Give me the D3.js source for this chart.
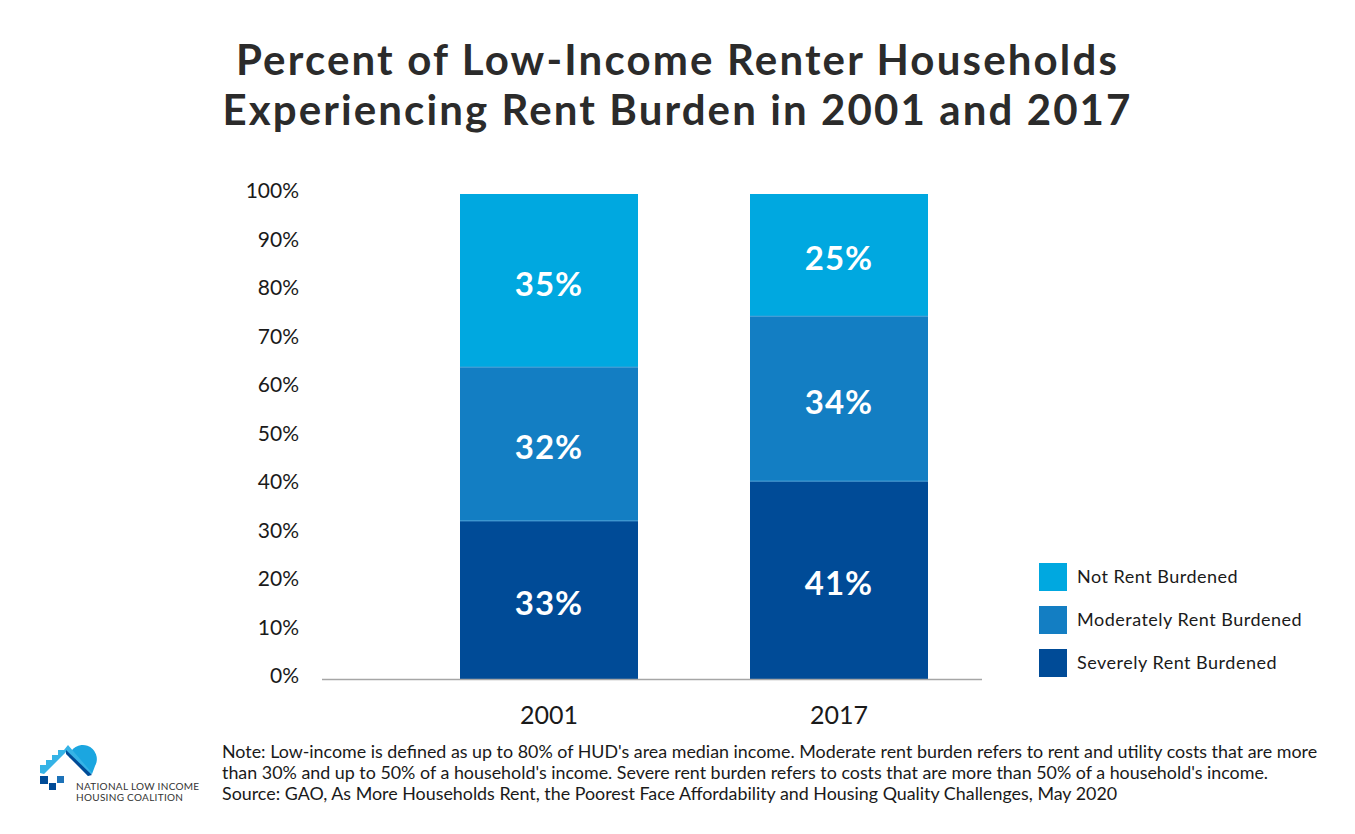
<!DOCTYPE html>
<html><head><meta charset="utf-8">
<script src="https://cdn.jsdelivr.net/npm/d3@7"></script>
<style>body{margin:0;background:#fff}svg{display:block}text{font-family:Lato,"Open Sans",sans-serif}</style>
</head><body>
<svg id="c" width="1355" height="834"></svg>
<script>
const years = ["2001", "2017"];
const seriesNames = ["Severely Rent Burdened", "Moderately Rent Burdened", "Not Rent Burdened"];
const severe = [32.6, 40.8];
const moderate = [31.7, 34.0];
const notBurdened = [35.7, 25.2];
const severeLabels = ["33%", "41%"];
const moderateLabels = ["32%", "34%"];
const notLabels = ["35%", "25%"];
const yTicks = [0, 10, 20, 30, 40, 50, 60, 70, 80, 90, 100];
const colors = ["#004b97", "#137ec3", "#00a8e0"];

const svg = d3.select("#c");
function fit(sel, w) {
  const n = sel.node(); const cur = n.getComputedTextLength();
  const fs = parseFloat(sel.attr("font-size"));
  sel.attr("font-size", fs * w / cur);
}
function fitSpacing(sel, w) {
  const n = sel.node(); const cur = n.getComputedTextLength();
  const len = sel.text().length;
  sel.attr("letter-spacing", (w - cur) / (len - 1));
}

// title
const t1 = svg.append("text").attr("x", 677.5).attr("y", 75).attr("text-anchor", "middle")
  .attr("font-size", 42).attr("font-weight", 700).attr("fill", "#2b2b2b").text("Percent of Low-Income Renter Households");
fitSpacing(t1, 881);
const t2 = svg.append("text").attr("x", 677.5).attr("y", 125).attr("text-anchor", "middle")
  .attr("font-size", 42).attr("font-weight", 700).attr("fill", "#2b2b2b").text("Experiencing Rent Burden in 2001 and 2017");
fitSpacing(t2, 908);

const y = d3.scaleLinear().domain([0, 100]).range([679, 194]);
const x = d3.scaleBand().domain(years).range([404, 984]).paddingInner(0.3862).paddingOuter(0.1931);

const rows = years.map((yr, i) => ({year: yr, vals: [severe[i], moderate[i], notBurdened[i]], labels: [severeLabels[i], moderateLabels[i], notLabels[i]]}));
const segs = [];
rows.forEach(r => { let acc = 0; r.vals.forEach((v, k) => { segs.push({year: r.year, k, y0: acc, y1: acc + v, label: r.labels[k]}); acc += v; }); });

svg.append("g").selectAll("rect").data(segs).join("rect")
  .attr("x", d => x(d.year)).attr("width", x.bandwidth())
  .attr("y", d => y(d.y1)).attr("height", d => y(d.y0) - y(d.y1))
  .attr("fill", d => colors[d.k]);
// thin separators
svg.append("g").selectAll("line").data(segs.filter(d => d.k > 0)).join("line")
  .attr("x1", d => x(d.year)).attr("x2", d => x(d.year) + x.bandwidth())
  .attr("y1", d => y(d.y0)).attr("y2", d => y(d.y0))
  .attr("stroke", "#4a9fd6").attr("stroke-width", 1);

svg.append("g").selectAll("text").data(segs).join("text")
  .attr("x", d => x(d.year) + x.bandwidth() / 2).attr("y", d => y((d.y0 + d.y1) / 2) + 15)
  .attr("text-anchor", "middle").attr("fill", "#fff").attr("font-size", 33).attr("font-weight", 700)
  .attr("letter-spacing", 1)
  .text(d => d.label);

// y axis
const ya = svg.append("g").attr("transform", "translate(299,0)")
  .call(d3.axisLeft(y).tickValues(yTicks).tickSize(0).tickPadding(0).tickFormat(d => d + "%"));
ya.select(".domain").remove();
ya.selectAll("text").attr("font-size", 21).attr("fill", "#1a1a1a").attr("dy", "0.3em").attr("font-family", "Lato, sans-serif");
ya.selectAll(".tick").attr("transform", d => `translate(0,${y(d) - 2})`);

// x baseline
svg.append("line").attr("x1", 322).attr("x2", 982).attr("y1", 679.5).attr("y2", 679.5).attr("stroke", "#a6a6a6").attr("stroke-width", 1.5);
const xa = svg.append("g").attr("transform", "translate(0,679)")
  .call(d3.axisBottom(x).tickSize(0).tickPadding(0));
xa.select(".domain").remove();
xa.selectAll("text").attr("font-size", 25).attr("fill", "#1a1a1a").attr("y", 45).attr("dy", 0).attr("font-family", "Lato, sans-serif");

// legend
const legendOrder = [2, 1, 0];
const lg = svg.append("g").selectAll("g").data(legendOrder).join("g")
  .attr("transform", (d, i) => `translate(1039,${563 + i * 43})`);
lg.append("rect").attr("width", 28).attr("height", 28).attr("fill", d => colors[d]);
lg.append("text").attr("x", 38).attr("y", 20).attr("font-size", 18).attr("letter-spacing", 0.5).attr("fill", "#1a1a1a").text(d => seriesNames[d]);

// note
const notes = [
  "Note: Low-income is defined as up to 80% of HUD's area median income. Moderate rent burden refers to rent and utility costs that are more",
  "than 30% and up to 50% of a household's income. Severe rent burden refers to costs that are more than 50% of a household's income.",
  "Source: GAO, As More Households Rent, the Poorest Face Affordability and Housing Quality Challenges, May 2020"
];
const n0 = svg.append("text").attr("x", 222).attr("y", 758).attr("font-size", 16).attr("fill", "#1a1a1a").text(notes[0]);
fit(n0, 1096);
const nfs = +n0.attr("font-size");
notes.slice(1).forEach((s, i) => svg.append("text").attr("x", 222).attr("y", 779 + i * 21).attr("font-size", nfs).attr("fill", "#1a1a1a").text(s));

// logo
const lo = svg.append("g");
lo.append("path").attr("d", "M69,757 A14,14 0 1 1 95,766 L92,774 Z").attr("fill", "#1ba6e0");
lo.append("path").attr("d", "M40,773 L40,765 L46,765 L46,760 L52,760 L52,755 L58,755 L58,750 L64,750 L68,745 L92,773 L88,776 L66,752 L44,774 Z").attr("fill", "#35b3e6");
lo.append("path").attr("d", "M66,750 L92,775 L88,776 L66,754 Z").attr("fill", "#004b97");
lo.append("rect").attr("x", 40).attr("y", 776).attr("width", 8).attr("height", 8).attr("fill", "#004b97");
lo.append("rect").attr("x", 57).attr("y", 776).attr("width", 7).attr("height", 7).attr("fill", "#1d72b8");
lo.append("rect").attr("x", 49).attr("y", 783).attr("width", 7).attr("height", 7).attr("fill", "#004b97");
lo.append("text").attr("x", 76).attr("y", 790).attr("font-size", 10).attr("fill", "#333").attr("letter-spacing", 0.3).text("NATIONAL LOW INCOME");
lo.append("text").attr("x", 76).attr("y", 801).attr("font-size", 10).attr("fill", "#333").attr("letter-spacing", 0.3).text("HOUSING COALITION");
</script>
</body></html>
